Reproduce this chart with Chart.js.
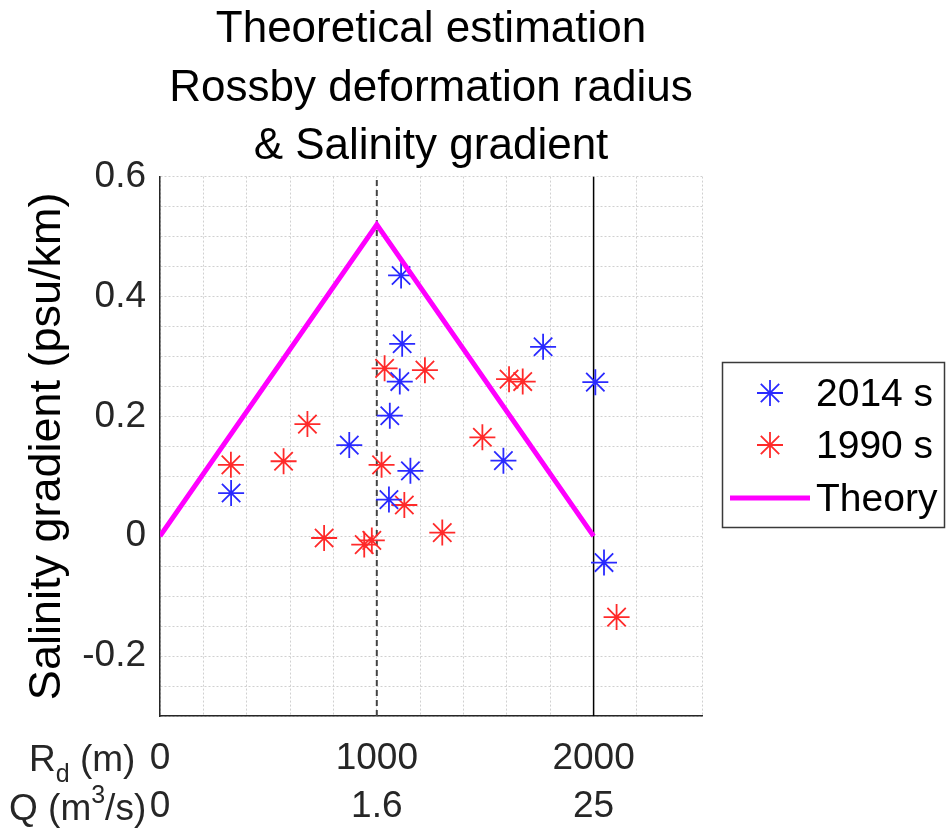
<!DOCTYPE html>
<html>
<head>
<meta charset="utf-8">
<script src="https://cdn.jsdelivr.net/npm/chart.js@4.4.1/dist/chart.umd.min.js"></script>
<style>
  html, body { margin: 0; padding: 0; background: #fff; }
  #wrap { width: 947px; height: 835px; position: relative; }
</style>
</head>
<body>
<div id="wrap"><canvas id="salinityChart"></canvas></div>
<script>
// Rossby deformation radius (m) vs salinity gradient (psu/km)
const rd2014 = [328, 873, 1060, 1056, 1112, 1117, 1106, 1155, 1584, 1767, 2008, 2048];
const sg2014 = [0.072, 0.152, 0.201, 0.061, 0.435, 0.321, 0.258, 0.109, 0.126, 0.316, 0.257, -0.044];

const rd1990 = [327, 570, 680, 757, 942, 977, 1022, 1036, 1127, 1222, 1302, 1487, 1610, 1673, 2106];
const sg1990 = [0.119, 0.125, 0.187, -0.003, -0.014, -0.007, 0.119, 0.280, 0.052, 0.277, 0.006, 0.165, 0.262, 0.258, -0.135];

const theoryRd = [0, 1000, 2000];
const theorySg = [0, 0.52, 0];

// labelled ticks: radius and matching discharge
const rdTicks = [0, 1000, 2000];
const qLabels = ['0', '1.6', '25'];

const refLines = [1000, 2000];
const yRange = [-0.3, 0.6];

const FONT = "'Liberation Sans', Arial, sans-serif";

function pts(xs, ys) {
    return xs.map((x, i) => ({ x: x, y: ys[i] }));
}

// draws the right hand legend box and the two row captions under the x axis
const extrasPlugin = {
    id: 'extras',
    afterDraw(chart) {
        const ctx = chart.ctx;
        const ds = chart.data.datasets;
        ctx.save();

        // legend
        ctx.fillStyle = '#fff';
        ctx.fillRect(722, 362, 223, 166);
        ctx.strokeStyle = '#3a3a3a';
        ctx.lineWidth = 1.5;
        ctx.strokeRect(722.5, 362.5, 222, 165);

        const rows = [393, 445, 498];
        [0, 1].forEach((k, i) => {
            const d = ds[k];
            ctx.strokeStyle = d.borderColor;
            ctx.fillStyle = d.borderColor;
            ctx.lineWidth = d.borderWidth;
            Chart.helpers.drawPoint(ctx, { pointStyle: 'star', radius: d.pointRadius, rotation: 0, borderWidth: d.borderWidth }, 770, rows[i]);
        });
        ctx.strokeStyle = ds[2].borderColor;
        ctx.lineWidth = ds[2].borderWidth;
        ctx.beginPath();
        ctx.moveTo(730, rows[2]);
        ctx.lineTo(810, rows[2]);
        ctx.stroke();

        ctx.fillStyle = '#000';
        ctx.font = '39px ' + FONT;
        ctx.textBaseline = 'middle';
        ctx.textAlign = 'left';
        [0, 1, 2].forEach((k, i) => ctx.fillText(ds[k].label, 816, rows[i] + 2));

        // row captions: R_d (m) and Q (m^3/s)
        ctx.fillStyle = '#262626';
        ctx.textBaseline = 'alphabetic';
        const big = '37px ' + FONT, small = '25px ' + FONT;
        let x = 29, y = 771;
        ctx.font = big; ctx.fillText('R', x, y); x += ctx.measureText('R').width;
        ctx.font = small; ctx.fillText('d', x, y + 11); x += ctx.measureText('d').width;
        ctx.font = big; ctx.fillText(' (m)', x, y);

        x = 9; y = 820;
        ctx.font = big; ctx.fillText('Q (m', x, y); x += ctx.measureText('Q (m').width;
        ctx.font = small; ctx.fillText('3', x, y - 17); x += ctx.measureText('3').width;
        ctx.font = big; ctx.fillText('/s)', x, y);
        ctx.restore();
    }
};

const ctx = document.getElementById('salinityChart').getContext('2d');
new Chart(ctx, {
    type: 'scatter',
    data: {
        datasets: [
            {
                label: '2014 s',
                data: pts(rd2014, sg2014),
                showLine: false,
                pointStyle: 'star',
                pointRadius: 13,
                pointHoverRadius: 13,
                borderWidth: 1.8,
                borderColor: '#2a2aff',
                backgroundColor: '#2a2aff',
                order: 1
            },
            {
                label: '1990 s',
                data: pts(rd1990, sg1990),
                showLine: false,
                pointStyle: 'star',
                pointRadius: 13,
                pointHoverRadius: 13,
                borderWidth: 1.8,
                borderColor: '#ff2a2a',
                backgroundColor: '#ff2a2a',
                order: 2
            },
            {
                label: 'Theory',
                type: 'line',
                data: pts(theoryRd, theorySg),
                borderColor: '#ff00ff',
                borderWidth: 5,
                pointRadius: 0,
                fill: false,
                tension: 0,
                order: 0
            },
            {
                label: 'ref1000',
                type: 'line',
                data: pts([refLines[0], refLines[0]], yRange),
                borderColor: '#444',
                borderWidth: 2,
                borderDash: [6, 4],
                pointRadius: 0,
                order: 5
            },
            {
                label: 'ref2000',
                type: 'line',
                data: pts([refLines[1], refLines[1]], yRange),
                borderColor: '#000',
                borderWidth: 1.5,
                pointRadius: 0,
                order: 5
            }
        ]
    },
    options: {
        responsive: true,
        maintainAspectRatio: false,
        animation: false,
        layout: { padding: { left: 0, right: 245, top: 0, bottom: 0 } },
        plugins: {
            legend: { display: false },
            tooltip: { enabled: false },
            title: {
                display: true,
                fullSize: false,
                text: ['Theoretical estimation', 'Rossby deformation radius', '& Salinity gradient'],
                color: '#000',
                font: { family: FONT, size: 44, weight: 'normal', lineHeight: 1.33 },
                padding: { top: 1, bottom: 0 }
            }
        },
        scales: {
            x: {
                type: 'linear',
                min: 0,
                max: 2500,
                afterFit(scale) { scale.height = 119; },
                ticks: {
                    stepSize: 200,
                    autoSkip: false,
                    maxRotation: 0,
                    padding: 19,
                    color: '#262626',
                    font: { family: FONT, size: 37, lineHeight: 1.3 },
                    callback(v) {
                        const i = rdTicks.indexOf(v);
                        return i >= 0 ? [String(rdTicks[i]), qLabels[i]] : '';
                    }
                },
                grid: { color: '#d0d0d0', lineWidth: 1, drawTicks: false },
                border: { display: true, color: '#262626', width: 1.5, dash: [2, 2] }
            },
            y: {
                type: 'linear',
                min: yRange[0],
                max: yRange[1],
                afterFit(scale) { scale.width = 160; },
                ticks: {
                    stepSize: 0.05,
                    autoSkip: false,
                    padding: 14,
                    color: '#262626',
                    font: { family: FONT, size: 37 },
                    callback(v) {
                        const r = v / 0.2;
                        if (Math.abs(r - Math.round(r)) > 1e-6) return '';
                        return String(Math.round(v * 10) / 10);
                    }
                },
                title: {
                    display: true,
                    text: 'Salinity gradient (psu/km)',
                    color: '#000',
                    font: { family: FONT, size: 45, lineHeight: 2.13 },
                    padding: { top: 0, bottom: 0 }
                },
                grid: { color: '#d0d0d0', lineWidth: 1, drawTicks: false },
                border: { display: true, color: '#262626', width: 1.5, dash: [2, 2] }
            }
        }
    },
    plugins: [extrasPlugin]
});
</script>
</body>
</html>
